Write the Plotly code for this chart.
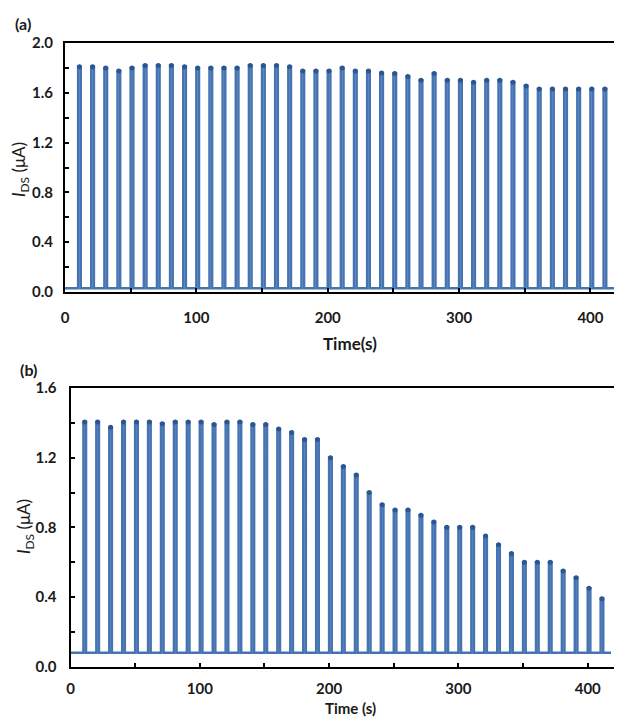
import plotly.graph_objects as go

# ---- data ----
pulse_times = [10, 20, 30, 40, 50, 60, 70, 80, 90, 100, 110, 120, 130, 140,
               150, 160, 170, 180, 190, 200, 210, 220, 230, 240, 250, 260,
               270, 280, 290, 300, 310, 320, 330, 340, 350, 360, 370, 380,
               390, 400, 410]
peaks_a = [1.81, 1.81, 1.80, 1.775, 1.80, 1.82, 1.82, 1.82, 1.81, 1.80,
           1.80, 1.80, 1.80, 1.82, 1.82, 1.82, 1.81, 1.775, 1.775, 1.775,
           1.80, 1.775, 1.775, 1.76, 1.755, 1.73, 1.70, 1.755, 1.70, 1.70,
           1.685, 1.70, 1.70, 1.685, 1.655, 1.63, 1.63, 1.63, 1.63, 1.63, 1.63]
peaks_b = [1.405, 1.405, 1.375, 1.405, 1.405, 1.405, 1.395, 1.405, 1.405,
           1.405, 1.39, 1.405, 1.405, 1.39, 1.39, 1.365, 1.345, 1.305, 1.305,
           1.20, 1.15, 1.10, 1.00, 0.93, 0.90, 0.90, 0.87, 0.83, 0.80, 0.80,
           0.80, 0.75, 0.70, 0.65, 0.60, 0.60, 0.60, 0.55, 0.51, 0.45, 0.39]
base_a = 0.03
base_b = 0.08
pulse_width = 2.0
t_end = 418
x_ticks = [0, 100, 200, 300, 400]
y_ticks_a = [0.0, 0.4, 0.8, 1.2, 1.6, 2.0]
y_ticks_b = [0.0, 0.4, 0.8, 1.2, 1.6]

LINE = "#4673B2"
CAP = "#2C568F"
FONT = "Lato"


def square_wave(peaks, base):
    xs, ys = [0], [base]
    for t, p in zip(pulse_times, peaks):
        xs += [t, t, t + pulse_width, t + pulse_width]
        ys += [base, p, p, base]
    xs.append(t_end)
    ys.append(base)
    return xs, ys


fig = go.Figure()
for peaks, base, xa, ya in [(peaks_a, base_a, "x", "y"), (peaks_b, base_b, "x2", "y2")]:
    xs, ys = square_wave(peaks, base)
    fig.add_trace(go.Scatter(x=xs, y=ys, mode="lines", xaxis=xa, yaxis=ya,
                             line=dict(color=LINE, width=2.5), showlegend=False,
                             hoverinfo="skip"))
    fig.add_trace(go.Scatter(x=[t + pulse_width / 2 for t in pulse_times], y=peaks,
                             mode="markers", xaxis=xa, yaxis=ya,
                             marker=dict(color=CAP, size=5, symbol="circle"),
                             showlegend=False, hoverinfo="skip"))

# page body has an 8px margin; figure is sized to fill the visible window
OFF = 8
W, H = 622 - OFF, 717 - OFF

def px_x(p):
    return (p - OFF) / W

def px_y(p):
    return 1 - (p - OFF) / H

minor_common = dict(ticks="inside", ticklen=4, tickwidth=1.5, tickcolor="black")
axis_common = dict(showline=True, linecolor="black", linewidth=2, ticks="inside",
                   ticklen=4, tickwidth=1.5, tickcolor="black", showgrid=False,
                   zeroline=False, automargin=False,
                   tickfont=dict(family=FONT, size=15, color="#1a1a1a", weight="bold"))

fig.update_layout(
    width=W, height=H, margin=dict(l=0, r=0, t=0, b=0, pad=0, autoexpand=False),
    plot_bgcolor="white", paper_bgcolor="white",
    xaxis=dict(domain=[px_x(65), 1], range=[0, 424], tickvals=x_ticks,
               minor=dict(dtick=50, **minor_common),
               mirror=True, anchor="y", ticklabelstandoff=11, **axis_common),
    yaxis=dict(domain=[px_y(292), px_y(43)], range=[0, 2.0], tickvals=y_ticks_a,
               tickformat=".1f", minor=dict(dtick=0.2, **minor_common),
               anchor="x", ticklabelstandoff=7, **axis_common),
    xaxis2=dict(domain=[px_x(70.5), 1], range=[0, 426.5], tickvals=x_ticks,
                minor=dict(dtick=50, **minor_common),
                mirror=True, anchor="y2", ticklabelstandoff=7, **axis_common),
    yaxis2=dict(domain=[px_y(666.7), px_y(388)], range=[0, 1.6], tickvals=y_ticks_b,
                tickformat=".1f", minor=dict(dtick=0.2, **minor_common),
                anchor="x2", ticklabelstandoff=9, **axis_common),
)

ann = []
def add_text(text, x, y, size=15, angle=0, bold=True):
    ann.append(dict(text=text, x=px_x(x), y=px_y(y), xref="paper", yref="paper",
                    showarrow=False, textangle=angle, xanchor="center", yanchor="middle",
                    font=dict(family=FONT, size=size, color="#1a1a1a",
                              weight="bold" if bold else "normal")))

add_text("(a)", 23, 24, 16)
add_text("(b)", 28, 369, 16)
add_text("Time(s)", 350, 344, 17)
add_text("Time (s)", 350, 708, 15)
add_text("<i>I</i><sub>DS</sub> (μA)", 20, 170, 17, angle=-90, bold=False)
add_text("<i>I</i><sub>DS</sub> (μA)", 25, 527, 17, angle=-90, bold=False)
fig.update_layout(annotations=ann)

fig.write_html("out.html")
